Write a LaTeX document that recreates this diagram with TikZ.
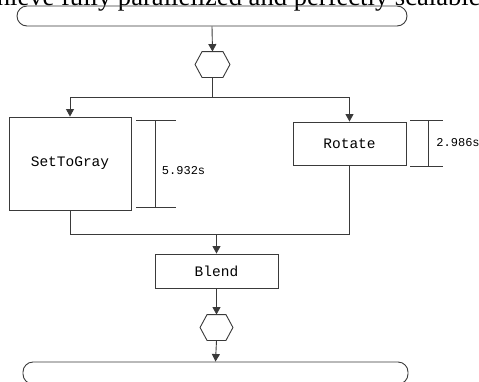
\documentclass[tikz,border=0pt]{standalone}
\usepackage{fontspec}
\setmainfont{Liberation Serif}
\newfontfamily\boxfont{Liberation Mono}
\usetikzlibrary{arrows.meta,calc}
\definecolor{linec}{HTML}{3A3A3A}
\tikzset{
  arr/.style={-{Triangle[length=7.5pt,width=8pt]}},
  proc/.style={draw, minimum width=#1, inner sep=0pt, font=\boxfont\fontsize{14.5}{16}\selectfont},
  bar/.style={draw, rounded corners=10pt, inner sep=0pt},
  hexbox/.style={draw=none, minimum width=33pt, minimum height=25pt, inner sep=0pt},
  dimlabel/.style={font=\boxfont\fontsize{12}{14}\selectfont, inner sep=0pt, anchor=west},
}
\newcommand{\hexdraw}[1]{%
  \draw (#1.west) -- ($(#1.north west)+(7pt,0)$) -- ($(#1.north east)+(-7pt,0)$) -- (#1.east) -- ($(#1.south east)+(-7pt,0)$) -- ($(#1.south west)+(7pt,0)$) -- cycle;}
\begin{document}
\begin{tikzpicture}[x=1pt,y=-1pt,color=linec,text=black,line width=0.9pt]
\useasboundingbox (0,0) rectangle (479,381);
\clip (0,0) rectangle (479,381);
% clipped text line above the figure
\node[anchor=base east, inner sep=0pt, font=\fontsize{26.6}{30}\selectfont] (txt) at (481,5) {achieve fully parallelized and perfectly scalable};
% top bar
\node[bar, minimum width=390pt, minimum height=20pt] (top) at (212,16) {};
% hexagon 1
\node[hexbox, minimum width=34pt] (hexa) at (212.5,64.5) {};
\hexdraw{hexa}
\draw[arr] (top.south) -- (hexa.north);
% fork
\coordinate (fork) at (212.5,97);
\draw (hexa.south) -- (fork);
% boxes
\node[proc=122pt, minimum height=93pt] (stg) at (70,163.5) {SetToGray};
\node[proc=113pt, minimum height=43pt] (rot) at (349.5,143.5) {Rotate};
\draw[arr] (fork) -| (stg.north);
\draw[arr] (fork) -| (rot.north);
% dimension for SetToGray
\coordinate (d1a) at (136,120);
\coordinate (d1b) at (176,120);
\coordinate (d1c) at (136,207);
\coordinate (d1d) at (176,207);
\coordinate (d1t) at (155,120);
\coordinate (d1u) at (155,207);
\draw (d1a) -- (d1b);
\draw (d1c) -- (d1d);
\draw (d1t) -- (d1u);
\node[dimlabel] (l1) at (161.5,170.5) {5.932s};
% dimension for Rotate
\coordinate (d2a) at (410,120);
\coordinate (d2b) at (443,120);
\coordinate (d2c) at (410,166);
\coordinate (d2d) at (443,166);
\coordinate (d2t) at (428,120);
\coordinate (d2u) at (428,166);
\draw (d2a) -- (d2b);
\draw (d2c) -- (d2d);
\draw (d2t) -- (d2u);
\node[dimlabel] (l2) at (436,143) {2.986s};
% join
\coordinate (join) at (216.5,234);
\draw (stg.south) -- (stg.south |- join) -- (rot.south |- join) -- (rot.south);
\node[proc=123pt, minimum height=34pt] (blend) at (216.5,271) {Blend};
\draw[arr] (join) -- (blend.north);
% hexagon 2
\node[hexbox, minimum width=32pt] (hexb) at (216.5,327.5) {};
\hexdraw{hexb}
\draw[arr] (blend.south) -- (hexb.north);
% bottom bar
\node[bar, minimum width=385pt, minimum height=22pt] (bot) at (215.5,373) {};
\draw[arr] (hexb.south) -- (bot.north);
\end{tikzpicture}
\end{document}
